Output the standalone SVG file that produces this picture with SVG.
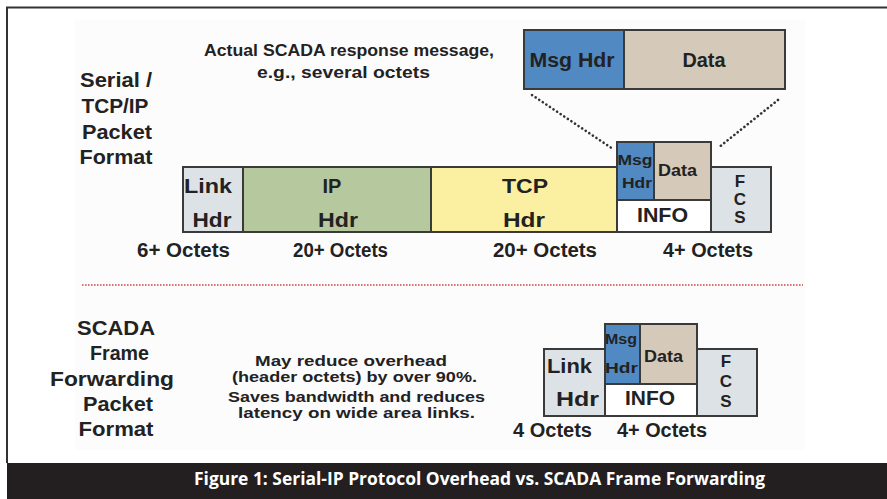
<svg xmlns="http://www.w3.org/2000/svg" width="887" height="499" viewBox="0 0 887 499">
<defs>
<style>
.t{font-family:"Liberation Sans",Arial,sans-serif;font-weight:bold;fill:#222;}
.box{stroke:#3a3a3a;stroke-width:2;}
.link{fill:#dde2e7;}
.ip{fill:#b6c89e;}
.tcp{fill:#fbf0a2;}
.msg{fill:#5189c3;}
.data{fill:#d5cab9;}
.info{fill:#ffffff;}
.lbl{font-size:20px;}
.cap{font-family:"Open Sans","DejaVu Sans",sans-serif;font-weight:bold;font-size:17px;fill:#ffffff;}
</style>
</defs>
<rect x="0" y="0" width="887" height="499" fill="#ffffff"/>
<rect x="75" y="20" width="730" height="430" fill="#fcfcfd"/>
<path d="M7 463 V7.5 H887" fill="none" stroke="#333" stroke-width="2"/>

<g id="title-top">
<text class="t" font-size="17" x="204" y="56" textLength="290" lengthAdjust="spacingAndGlyphs">Actual SCADA response message,</text>
<text class="t" font-size="17" x="257" y="78" textLength="173" lengthAdjust="spacingAndGlyphs">e.g., several octets</text>
</g>

<g id="label-serial" class="t" font-size="21" text-anchor="middle">
<text x="116" y="87" textLength="72" lengthAdjust="spacingAndGlyphs">Serial /</text>
<text x="115" y="113" textLength="67" lengthAdjust="spacingAndGlyphs">TCP/IP</text>
<text x="117" y="139" textLength="70" lengthAdjust="spacingAndGlyphs">Packet</text>
<text x="116" y="164" textLength="73" lengthAdjust="spacingAndGlyphs">Format</text>
</g>

<g id="msg-enlarged">
<rect class="box msg" x="524" y="30" width="100" height="59"/>
<rect class="box data" x="624" y="30" width="161" height="59"/>
<text class="t lbl" x="572" y="67" text-anchor="middle" textLength="85" lengthAdjust="spacingAndGlyphs">Msg Hdr</text>
<text class="t lbl" x="704" y="67" text-anchor="middle" textLength="43" lengthAdjust="spacingAndGlyphs">Data</text>
</g>

<g id="connectors" fill="none">
<line x1="532" y1="95" x2="613" y2="149" stroke="#333" stroke-width="2.6" stroke-linecap="round" stroke-dasharray="0.1 4.2"/>
<line x1="778" y1="100" x2="718" y2="148" stroke="#333" stroke-width="2.6" stroke-linecap="round" stroke-dasharray="0.1 4.2"/>
<line x1="82" y1="285" x2="803" y2="285" stroke="#d04a4a" stroke-width="1.6" stroke-dasharray="1.6 1.4"/>
</g>

<g id="top-link">
<rect class="box link" x="183" y="167" width="60" height="65"/>
<text class="t lbl" x="208" y="193" text-anchor="middle" textLength="48" lengthAdjust="spacingAndGlyphs">Link</text>
<text class="t lbl" x="212" y="227" text-anchor="middle" textLength="39" lengthAdjust="spacingAndGlyphs">Hdr</text>
</g>
<g id="top-ip">
<rect class="box ip" x="243" y="167" width="188" height="65"/>
<text class="t lbl" x="332" y="193" text-anchor="middle">IP</text>
<text class="t lbl" x="338" y="227" text-anchor="middle" textLength="40" lengthAdjust="spacingAndGlyphs">Hdr</text>
</g>
<g id="top-tcp">
<rect class="box tcp" x="431" y="167" width="186" height="65"/>
<text class="t lbl" x="525" y="193" text-anchor="middle" textLength="46" lengthAdjust="spacingAndGlyphs">TCP</text>
<text class="t lbl" x="524" y="227" text-anchor="middle" textLength="42" lengthAdjust="spacingAndGlyphs">Hdr</text>
</g>
<g id="top-info">
<rect class="box info" x="617" y="142" width="94" height="90"/>
<rect class="box msg" x="617" y="142" width="37" height="58"/>
<rect class="box data" x="654" y="142" width="57" height="58"/>
<text class="t" font-size="14" x="635" y="165" text-anchor="middle" textLength="35" lengthAdjust="spacingAndGlyphs">Msg</text>
<text class="t" font-size="14" x="637" y="188" text-anchor="middle" textLength="30" lengthAdjust="spacingAndGlyphs">Hdr</text>
<text class="t" font-size="16" x="677.5" y="176" text-anchor="middle" textLength="39" lengthAdjust="spacingAndGlyphs">Data</text>
<text class="t" font-size="21" x="662.5" y="222" text-anchor="middle" textLength="51" lengthAdjust="spacingAndGlyphs">INFO</text>
</g>
<g id="top-fcs">
<rect class="box link" x="711" y="167" width="60" height="65"/>
<text class="t" font-size="17" x="740" y="187" text-anchor="middle">F</text>
<text class="t" font-size="17" x="740" y="205" text-anchor="middle">C</text>
<text class="t" font-size="17" x="740" y="223" text-anchor="middle">S</text>
</g>

<g id="top-octets" class="t lbl">
<text x="137" y="257" textLength="93" lengthAdjust="spacingAndGlyphs">6+ Octets</text>
<text x="293" y="257" textLength="95" lengthAdjust="spacingAndGlyphs">20+ Octets</text>
<text x="493" y="257" textLength="104" lengthAdjust="spacingAndGlyphs">20+ Octets</text>
<text x="663" y="257" textLength="90" lengthAdjust="spacingAndGlyphs">4+ Octets</text>
</g>

<g id="label-scada" class="t" font-size="21" text-anchor="middle">
<text x="116" y="335" textLength="78" lengthAdjust="spacingAndGlyphs">SCADA</text>
<text x="119.5" y="360" textLength="59" lengthAdjust="spacingAndGlyphs">Frame</text>
<text x="112" y="386" textLength="124" lengthAdjust="spacingAndGlyphs">Forwarding</text>
<text x="118" y="411" textLength="70" lengthAdjust="spacingAndGlyphs">Packet</text>
<text x="116" y="436" textLength="75" lengthAdjust="spacingAndGlyphs">Format</text>
</g>

<g id="note" class="t" font-size="15" text-anchor="middle">
<text x="351" y="366" textLength="192" lengthAdjust="spacingAndGlyphs">May reduce overhead</text>
<text x="354.5" y="382" textLength="245" lengthAdjust="spacingAndGlyphs">(header octets) by over 90%.</text>
<text x="356.5" y="402" textLength="257" lengthAdjust="spacingAndGlyphs">Saves bandwidth and reduces</text>
<text x="356.5" y="418" textLength="237" lengthAdjust="spacingAndGlyphs">latency on wide area links.</text>
</g>

<g id="bottom-link">
<rect class="box link" x="544" y="349" width="61" height="67"/>
<text class="t lbl" x="569.5" y="373" text-anchor="middle" textLength="45" lengthAdjust="spacingAndGlyphs">Link</text>
<text class="t lbl" x="577.5" y="406" text-anchor="middle" textLength="43" lengthAdjust="spacingAndGlyphs">Hdr</text>
</g>
<g id="bottom-info">
<rect class="box info" x="605" y="324" width="92" height="92"/>
<rect class="box msg" x="605" y="324" width="35" height="60"/>
<rect class="box data" x="640" y="324" width="57" height="60"/>
<text class="t" font-size="14" x="621" y="344" text-anchor="middle" textLength="32" lengthAdjust="spacingAndGlyphs">Msg</text>
<text class="t" font-size="14" x="621.5" y="373" text-anchor="middle" textLength="33" lengthAdjust="spacingAndGlyphs">Hdr</text>
<text class="t" font-size="16" x="663.5" y="362" text-anchor="middle" textLength="39" lengthAdjust="spacingAndGlyphs">Data</text>
<text class="t" font-size="21" x="650" y="405" text-anchor="middle" textLength="50" lengthAdjust="spacingAndGlyphs">INFO</text>
</g>
<g id="bottom-fcs">
<rect class="box link" x="697" y="349" width="60" height="67"/>
<text class="t" font-size="17" x="726" y="367" text-anchor="middle">F</text>
<text class="t" font-size="17" x="726" y="387" text-anchor="middle">C</text>
<text class="t" font-size="17" x="726" y="407" text-anchor="middle">S</text>
</g>
<g id="bottom-octets" class="t lbl">
<text x="513" y="437" textLength="79" lengthAdjust="spacingAndGlyphs">4 Octets</text>
<text x="617" y="437" textLength="90" lengthAdjust="spacingAndGlyphs">4+ Octets</text>
</g>

<g id="caption">
<rect x="7" y="463" width="880" height="36" fill="#231f20"/>
<text class="cap" x="194" y="485" textLength="571" lengthAdjust="spacingAndGlyphs">Figure 1: Serial-IP Protocol Overhead vs. SCADA Frame Forwarding</text>
</g>
</svg>
